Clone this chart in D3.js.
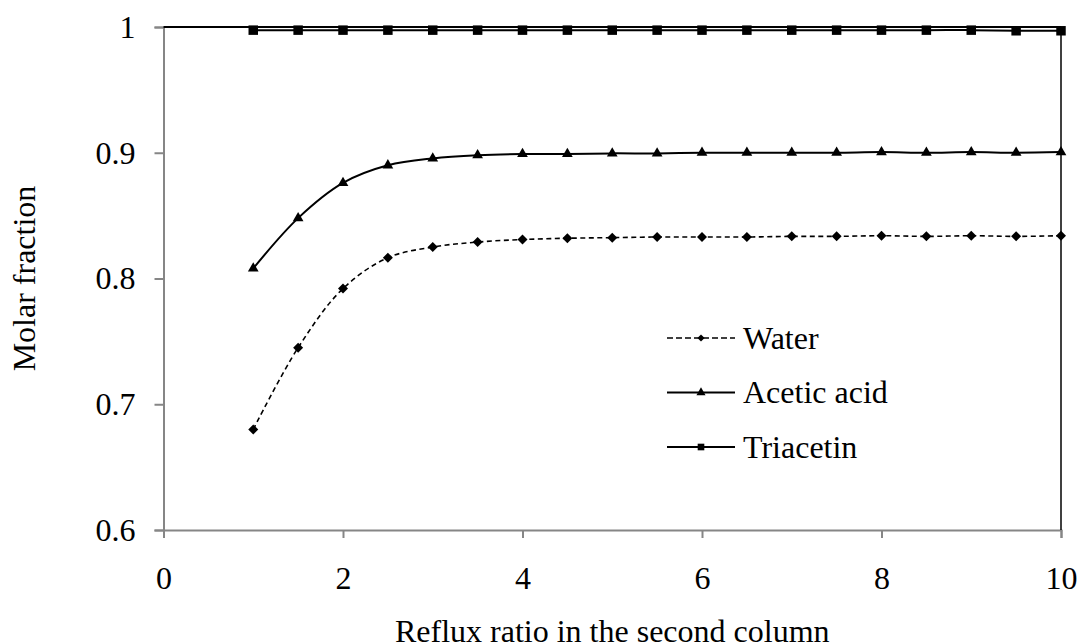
<!DOCTYPE html>
<html>
<head>
<meta charset="utf-8">
<script src="https://cdn.jsdelivr.net/npm/d3@7"></script>
<style>
  body { margin: 0; background: #fff; }
  svg text { font-family: "Liberation Serif", "Times New Roman", serif; fill: #000; }
</style>
</head>
<body>
<div id="chart"></div>
<script>
const reflux = [1, 1.5, 2, 2.5, 3, 3.5, 4, 4.5, 5, 5.5, 6, 6.5, 7, 7.5, 8, 8.5, 9, 9.5, 10];
const water = [0.680, 0.745, 0.792, 0.8165, 0.825, 0.829, 0.831, 0.832, 0.8325, 0.833, 0.833, 0.833,
  0.8335, 0.8335, 0.834, 0.8335, 0.834, 0.8335, 0.834];
const acetic = [0.808, 0.848, 0.876, 0.890, 0.8955, 0.898, 0.899, 0.899, 0.8995, 0.8995, 0.900, 0.900,
  0.900, 0.900, 0.9005, 0.900, 0.9005, 0.900, 0.9005];
const triacetin = [0.9975, 0.9975, 0.9975, 0.9975, 0.9975, 0.9975, 0.9975, 0.9975, 0.9975, 0.9975,
  0.9975, 0.9975, 0.9975, 0.9975, 0.9975, 0.9975, 0.9975, 0.997, 0.997];
const xTicks = [0, 2, 4, 6, 8, 10];
const yTicks = [0.6, 0.7, 0.8, 0.9, 1];

const width = 1080, height = 643;
const margin = { top: 27, right: 19, bottom: 113, left: 163.5 };
const fontSize = "32px";

const svg = d3.select("#chart").append("svg")
  .attr("width", width).attr("height", height);

const x = d3.scaleLinear().domain([0, 10]).range([margin.left, width - margin.right]);
const y = d3.scaleLinear().domain([0.6, 1]).range([height - margin.bottom, margin.top]);

// axes
const xAxis = svg.append("g")
  .attr("transform", `translate(0,${y(0.6)})`)
  .call(d3.axisBottom(x).tickValues(xTicks).tickSize(8).tickPadding(28).tickFormat(d3.format("d")));
const yAxis = svg.append("g")
  .attr("transform", `translate(${x(0)},0)`)
  .call(d3.axisLeft(y).tickValues(yTicks).tickSize(9).tickPadding(19).tickFormat(d => d === 1 ? "1" : d3.format(".1f")(d)));

[xAxis, yAxis].forEach(g => {
  g.select(".domain").attr("stroke", "#868686").attr("stroke-width", 2);
  g.selectAll(".tick line").attr("stroke", "#868686").attr("stroke-width", 2);
  g.selectAll(".tick text")
    .style("font-size", fontSize)
    .style("font-family", "'Liberation Serif', serif");
});

// frame: top and right in black
svg.append("line")
  .attr("x1", x(0)).attr("x2", x(10)).attr("y1", y(1)).attr("y2", y(1))
  .attr("stroke", "#000").attr("stroke-width", 2);
svg.append("line")
  .attr("x1", x(10)).attr("x2", x(10)).attr("y1", y(1)).attr("y2", y(0.6))
  .attr("stroke", "#000").attr("stroke-width", 1.5);

// axis titles
svg.append("text")
  .attr("x", x(5)).attr("y", 642)
  .attr("text-anchor", "middle").style("font-size", fontSize)
  .text("Reflux ratio in the second column");
svg.append("text")
  .attr("transform", `translate(35,${y(0.8)}) rotate(-90)`)
  .attr("text-anchor", "middle").style("font-size", fontSize)
  .text("Molar fraction");

const series = [
  { name: "Triacetin", values: triacetin, sym: d3.symbol().type(d3.symbolSquare).size(90), rot: 0, dash: null, width: 2 },
  { name: "Acetic acid", values: acetic, sym: d3.symbol().type(d3.symbolTriangle).size(50), rot: 0, dash: null, width: 2 },
  { name: "Water", values: water, sym: d3.symbol().type(d3.symbolSquare).size(50), rot: 45, dash: "5,3.5", width: 1.6 }
];

const line = d3.line()
  .x(d => x(d[0])).y(d => y(d[1]))
  .curve(d3.curveCatmullRom.alpha(0.5));

series.forEach(s => {
  const pts = reflux.map((r, i) => [r, s.values[i]]);
  svg.append("path")
    .datum(pts)
    .attr("d", line)
    .attr("fill", "none")
    .attr("stroke", "#000")
    .attr("stroke-width", s.width)
    .attr("stroke-dasharray", s.dash);
  svg.selectAll(null)
    .data(pts)
    .join("path")
    .attr("transform", d => `translate(${x(d[0])},${y(d[1])}) rotate(${s.rot})`)
    .attr("d", s.sym)
    .attr("fill", "#000");
});

// legend
const legendItems = [
  { name: "Water", sym: d3.symbol().type(d3.symbolSquare).size(26), rot: 45, dash: "6,3", width: 1.6 },
  { name: "Acetic acid", sym: d3.symbol().type(d3.symbolTriangle).size(36), rot: 0, dash: null, width: 2 },
  { name: "Triacetin", sym: d3.symbol().type(d3.symbolSquare).size(44), rot: 0, dash: null, width: 2 }
];
const legend = svg.append("g").attr("transform", "translate(667,338)");
legendItems.forEach((d, i) => {
  const g = legend.append("g").attr("transform", `translate(0,${i * 54.5})`);
  g.append("line")
    .attr("x1", 0).attr("x2", 68).attr("y1", 0).attr("y2", 0)
    .attr("stroke", "#000").attr("stroke-width", d.width)
    .attr("stroke-dasharray", d.dash);
  g.append("path")
    .attr("transform", `translate(34,0) rotate(${d.rot})`)
    .attr("d", d.sym)
    .attr("fill", "#000");
  g.append("text")
    .attr("x", 76).attr("y", 0).attr("dy", "0.33em")
    .style("font-size", fontSize)
    .text(d.name);
});
</script>
</body>
</html>
